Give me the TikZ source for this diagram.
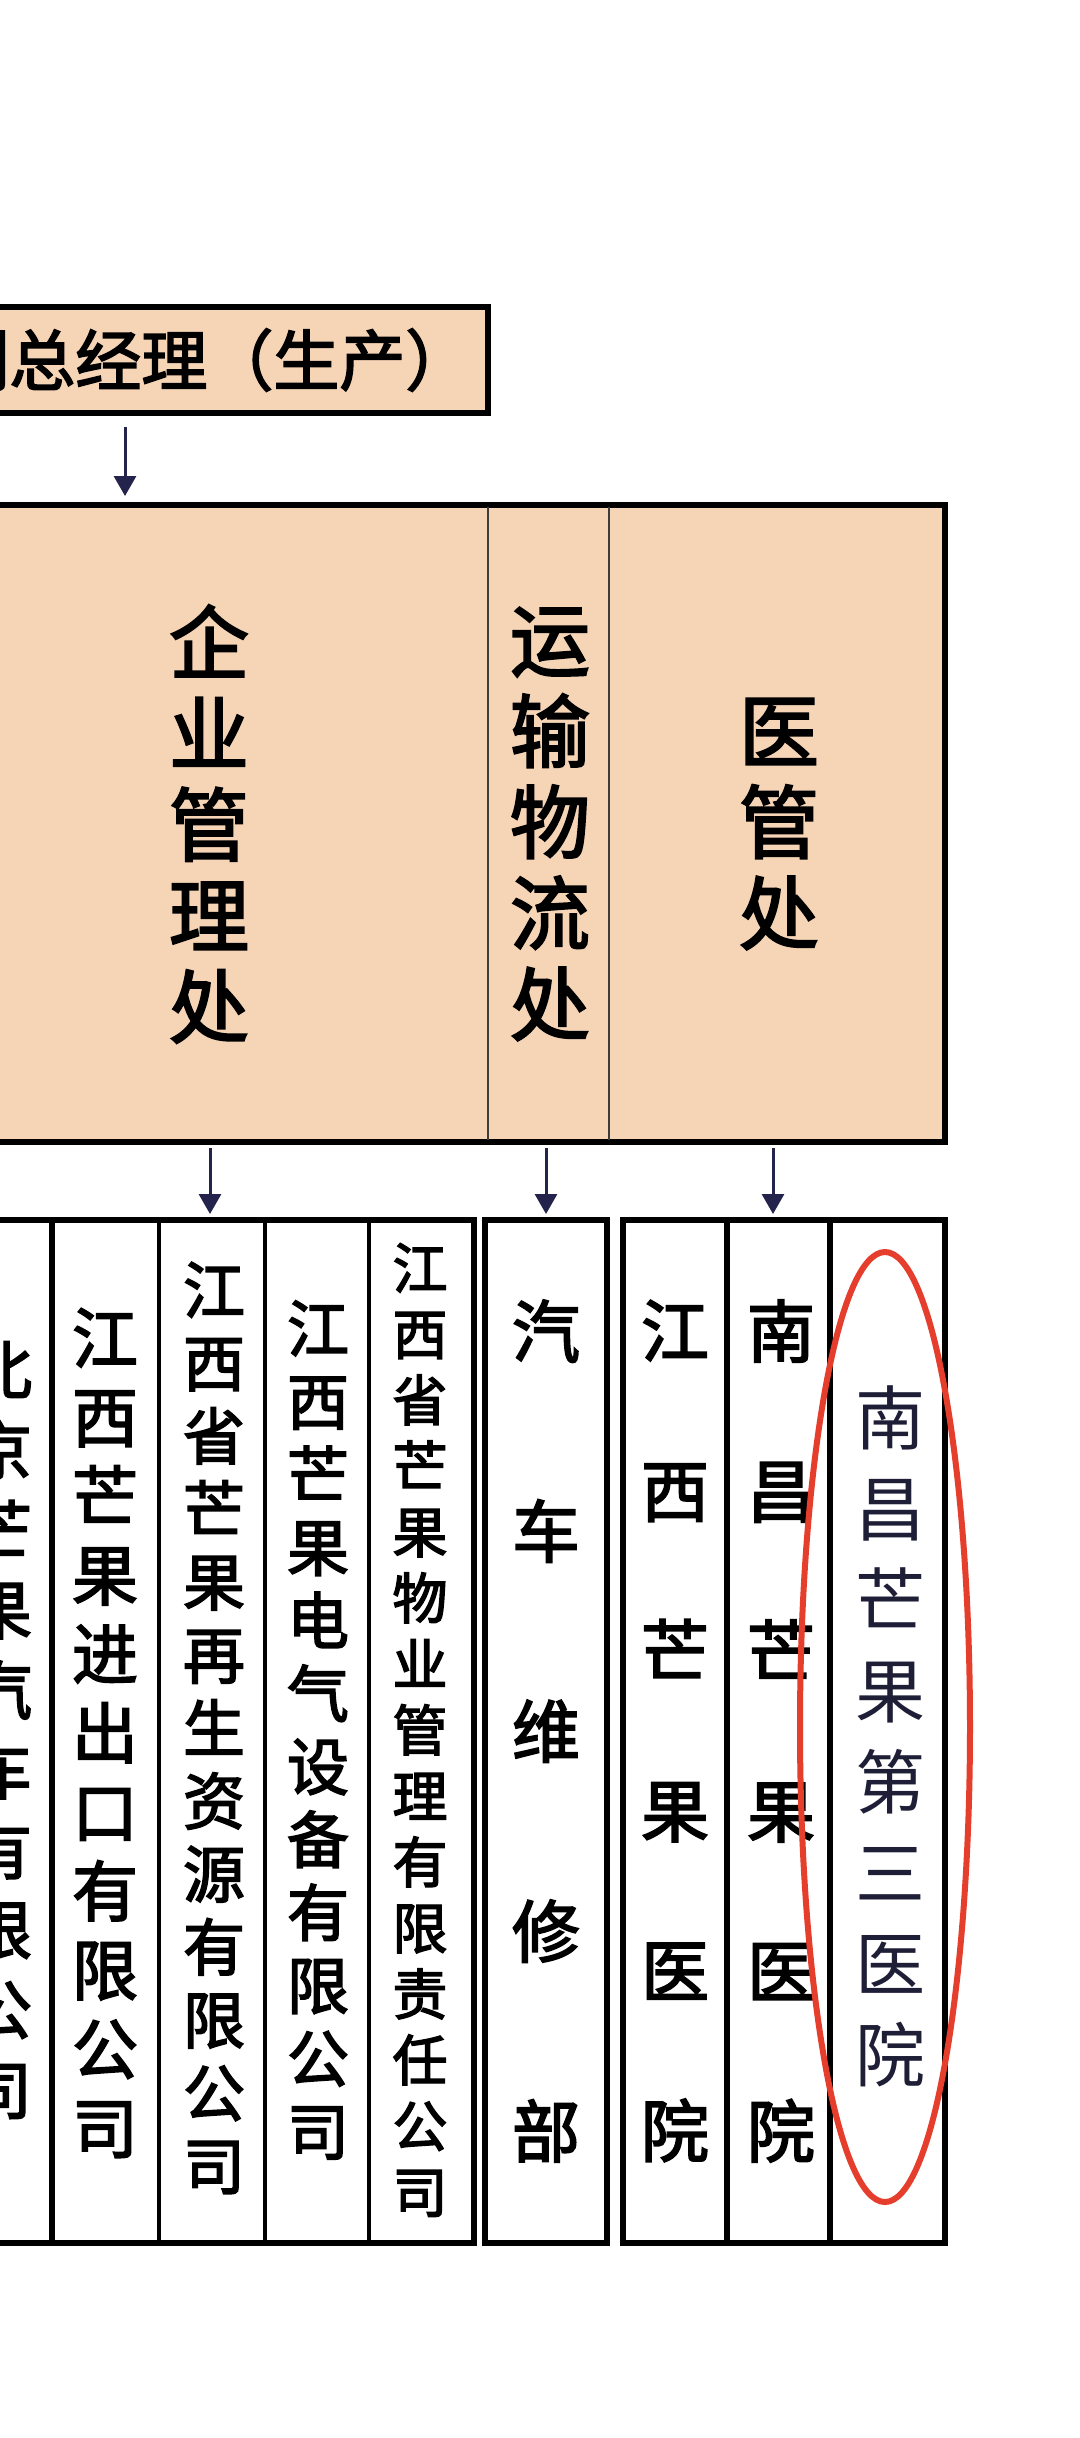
\documentclass[tikz,border=0pt]{standalone}
\usepackage{fontspec}
\newfontfamily\cjk{Noto Sans CJK SC}
\newfontfamily\cjkb{Noto Sans CJK SC}[FakeBold=2.6]
\usetikzlibrary{arrows.meta}
\definecolor{peach}{RGB}{246,213,183}
\definecolor{navy}{RGB}{35,35,75}
\definecolor{textnavy}{RGB}{30,30,55}
\definecolor{circred}{RGB}{229,62,45}
\definecolor{divgrey}{RGB}{60,60,60}
\tikzset{
  outerbox/.style={draw=black, line width=2.7pt},
  divline/.style={draw=divgrey, line width=1.3pt},
  thindiv/.style={draw=black, line width=1.6pt},
  thickdiv/.style={draw=black, line width=2.6pt},
  arr/.style={draw=navy, line width=1.5pt, -{Triangle[length=10pt,width=11pt]}},
  vtext/.style={inner sep=0pt, align=center, text=black},
}
\begin{document}
\begin{tikzpicture}[x=0.5pt,y=-0.5pt]
\clip (0,0) rectangle (1080,2438);
\fill[white] (0,0) rectangle (1080,2438);

% top box
\path[outerbox, fill=peach] (-300,307) rectangle (488,413);
\node[inner sep=0pt, anchor=west, font=\cjkb\fontsize{33}{36}\selectfont] (gm) at (-57,360) {副总经理（生产）};

% big box
\path[outerbox, fill=peach] (-300,505) rectangle (945,1142);
\draw[divline] (488,507) -- (488,1140);
\draw[divline] (609,507) -- (609,1140);
\node[vtext, font=\cjkb\fontsize{40}{45.5}\selectfont] (qy) at (209,824) {企\\业\\管\\理\\处};
\node[vtext, font=\cjkb\fontsize{40}{45.5}\selectfont] (ys) at (550,824) {运\\输\\物\\流\\处};
\node[vtext, font=\cjkb\fontsize{40}{45.5}\selectfont] (yg) at (779,824) {医\\管\\处};

% arrows
\coordinate (a0s) at (125,427); \coordinate (a0e) at (125,496);
\coordinate (a1s) at (210,1148); \coordinate (a1e) at (210,1214);
\coordinate (a2s) at (546,1148); \coordinate (a2e) at (546,1214);
\coordinate (a3s) at (773,1148); \coordinate (a3e) at (773,1214);
\draw[arr] (a0s) -- (a0e);
\draw[arr] (a1s) -- (a1e);
\draw[arr] (a2s) -- (a2e);
\draw[arr] (a3s) -- (a3e);

% lower group 1
\path[outerbox, fill=white] (-300,1220) rectangle (474,2243);
\draw[thickdiv] (52,1222) -- (52,2241);
\draw[thindiv] (159,1222) -- (159,2241);
\draw[thindiv] (265,1222) -- (265,2241);
\draw[thindiv] (369,1222) -- (369,2241);
% lower group 2
\path[outerbox, fill=white] (485,1220) rectangle (607,2243);
% lower group 3
\path[outerbox, fill=white] (623,1220) rectangle (945,2243);
\draw[thickdiv] (727,1222) -- (727,2241);
\draw[thickdiv] (830,1222) -- (830,2241);

\node[vtext, font=\cjkb\fontsize{32}{40}\selectfont] (c0) at (0,1730) {北\\京\\芒\\果\\汽\\车\\有\\限\\公\\司};
\node[vtext, font=\cjkb\fontsize{33}{39.5}\selectfont] (c1) at (105,1733) {江\\西\\芒\\果\\进\\出\\口\\有\\限\\公\\司};
\node[vtext, font=\cjkb\fontsize{31}{36.5}\selectfont] (c2) at (214,1728) {江\\西\\省\\芒\\果\\再\\生\\资\\源\\有\\限\\公\\司};
\node[vtext, font=\cjkb\fontsize{31}{36.5}\selectfont] (c3) at (318,1730) {江\\西\\芒\\果\\电\\气\\设\\备\\有\\限\\公\\司};
\node[vtext, font=\cjkb\fontsize{27.5}{33}\selectfont] (c4) at (420,1730) {江\\西\\省\\芒\\果\\物\\业\\管\\理\\有\\限\\责\\任\\公\\司};
\node[vtext, font=\cjkb\fontsize{34}{100}\selectfont] (c5) at (546,1731) {汽\\车\\维\\修\\部};
\node[vtext, font=\cjkb\fontsize{34}{80}\selectfont] (c6) at (675,1731) {江\\西\\芒\\果\\医\\院};
\node[vtext, font=\cjkb\fontsize{34}{80}\selectfont] (c7) at (781,1731) {南\\昌\\芒\\果\\医\\院};
\node[vtext, text=textnavy, font=\cjk\fontsize{35}{45.5}\selectfont] (c8) at (890,1736) {南\\昌\\芒\\果\\第\\三\\医\\院};

% red ellipse
\draw[circred, line width=3pt] (885,1727) ellipse [x radius=85, y radius=475];
\end{tikzpicture}
\end{document}
